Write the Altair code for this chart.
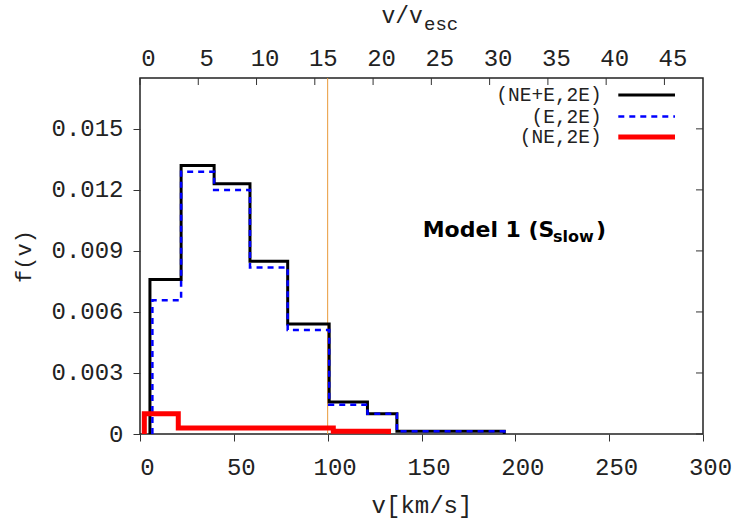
import altair as alt
import pandas as pd

# ---- data ----
series_names = ["(NE+E,2E)", "(E,2E)", "(NE,2E)"]
black_edges = [5.3, 21.9, 39.5, 58.6, 78.7, 100.8, 121.2, 136.9, 194.1]
black_vals = [0.00759, 0.01320, 0.01230, 0.00849, 0.00541, 0.00157, 0.00100, 0.00013]
blue_edges = [6.6, 21.9, 39.5, 58.6, 78.7, 100.8, 121.2, 136.9, 194.1]
blue_vals = [0.00657, 0.01289, 0.01200, 0.00819, 0.00511, 0.00144, 0.00100, 0.00013]
red_edges = [2.3, 20.4, 103.0, 132.4]
red_vals = [0.00100, 0.00030, 0.00013]
x_ticks = [0, 50, 100, 150, 200, 250, 300]
y_ticks = [0, 0.003, 0.006, 0.009, 0.012, 0.015]
top_ticks = [0, 5, 10, 15, 20, 25, 30, 35, 40, 45]
v_esc = 6.21
v_line = [100]

W, H = 563, 356
MONO = "Liberation Mono"


def steps(edges, vals, name):
    pts = [(edges[0], 0.0)] + list(zip(edges[:-1], vals)) + [(edges[-1], 0.0)]
    return pd.DataFrame({"v": [p[0] for p in pts], "f": [p[1] for p in pts],
                         "series": name, "order": list(range(len(pts)))})


xscale = alt.Scale(domain=[0, 300], nice=False, zero=False)
yscale = alt.Scale(domain=[0, 0.0175], nice=False, zero=False)

x_enc = alt.X("v:Q", scale=xscale,
              axis=alt.Axis(values=x_ticks, tickSize=7, labelPadding=14, labelOffset=7,
                            labelFlush=False,
                            title="v[km/s]", titleY=71, titleBaseline="middle",
                            titleFontSize=24))
y_enc = alt.Y("f:Q", scale=yscale,
              axis=alt.Axis(values=y_ticks, tickSize=7, labelPadding=10,
                            labelExpr="datum.value == 0 ? '0' : format(datum.value, '.3f')",
                            title="f(v)", titleX=-117, titleY=H / 2, titleAlign="center",
                            titleBaseline="middle", titleFontSize=22))

styles = {
    "(NE+E,2E)": dict(color="#000000", strokeWidth=3),
    "(E,2E)": dict(color="#0000ff", strokeWidth=2.5, strokeDash=[6, 5]),
    "(NE,2E)": dict(color="#ff0000", strokeWidth=5),
}
data_sets = {
    "(NE+E,2E)": steps(black_edges, black_vals, "(NE+E,2E)"),
    "(E,2E)": steps(blue_edges, blue_vals, "(E,2E)"),
    "(NE,2E)": steps(red_edges, red_vals, "(NE,2E)"),
}

vline = alt.Chart(pd.DataFrame({"v": v_line})).mark_rule(
    color="#e99a3a", strokeWidth=1).encode(x=x_enc)

hist_layers = []
for name in series_names:
    hist_layers.append(
        alt.Chart(data_sets[name]).mark_line(interpolate="step-after", **styles[name]).encode(
            x=x_enc, y=y_enc, order="order:Q"))

# mirror ticks on right edge (inward)
right_ticks = alt.Chart(pd.DataFrame({"f": y_ticks})).mark_rule(
    color="#333", strokeWidth=1).encode(y=y_enc, x=alt.value(W - 7), x2=alt.value(W))

# legend (gnuplot style: label left of sample)
legend_rows_y = [17, 38.5, 59]
legend_layers = []
one = pd.DataFrame({"a": [0]})
for name, ly in zip(series_names, legend_rows_y):
    legend_layers.append(
        alt.Chart(one).mark_text(align="right", baseline="middle", font=MONO,
                                 fontSize=19.5, color="#222").encode(
            x=alt.value(461.7), y=alt.value(ly), text=alt.value(name)))
    legend_layers.append(
        alt.Chart(one).mark_rule(**styles[name]).encode(
            x=alt.value(478.3), x2=alt.value(535), y=alt.value(ly)))

# model label with subscript
model_layers = [
    alt.Chart(one).mark_text(align="left", baseline="alphabetic", font="DejaVu Sans",
                             fontWeight="bold", fontSize=22, color="#000").encode(
        x=alt.value(282.7), y=alt.value(158.7), text=alt.value("Model 1 (S")),
    alt.Chart(one).mark_text(align="left", baseline="alphabetic", font="DejaVu Sans",
                             fontWeight="bold", fontSize=16, color="#000").encode(
        x=alt.value(413), y=alt.value(163.7), text=alt.value("slow")),
    alt.Chart(one).mark_text(align="left", baseline="alphabetic", font="DejaVu Sans",
                             fontWeight="bold", fontSize=22, color="#000").encode(
        x=alt.value(456), y=alt.value(158.7), text=alt.value(")")),
]

# top title v/v_esc
top_title = [
    alt.Chart(one).mark_text(align="left", baseline="alphabetic", font=MONO,
                             fontSize=23, color="#222").encode(
        x=alt.value(241.5), y=alt.value(-55), text=alt.value("v/v")),
    alt.Chart(one).mark_text(align="left", baseline="alphabetic", font=MONO,
                             fontSize=19, color="#222").encode(
        x=alt.value(284), y=alt.value(-48), text=alt.value("esc")),
]

main = alt.layer(vline, *hist_layers, right_ticks, *legend_layers, *model_layers, *top_title)

top_axis = alt.Chart(pd.DataFrame({"t": top_ticks})).mark_rule(
    color="#333", strokeWidth=1).encode(
    x=alt.X("t:Q", scale=alt.Scale(domain=[0, 300 / v_esc], nice=False, zero=False),
            axis=alt.Axis(orient="top", values=top_ticks, tickSize=0, labelPadding=8,
                          labelOffset=8, labelFlush=False, title=None)),
    y=alt.value(0), y2=alt.value(7))

chart = alt.layer(main, top_axis).resolve_scale(x="independent").properties(
    width=W, height=H,
    autosize=alt.AutoSizeParams(type="none"),
    padding={"left": 140, "top": 78, "right": 750 - 140 - W, "bottom": 525 - 78 - H},
).configure_view(stroke="#222", strokeWidth=1.5).configure_axis(
    grid=False, domain=False, labelFont=MONO, labelFontSize=24, labelColor="#222",
    titleFont=MONO, titleFontWeight="normal", titleColor="#222",
    tickColor="#333", tickWidth=1,
)

chart.save("out.html", embed_options={"renderer": "svg", "actions": False})
